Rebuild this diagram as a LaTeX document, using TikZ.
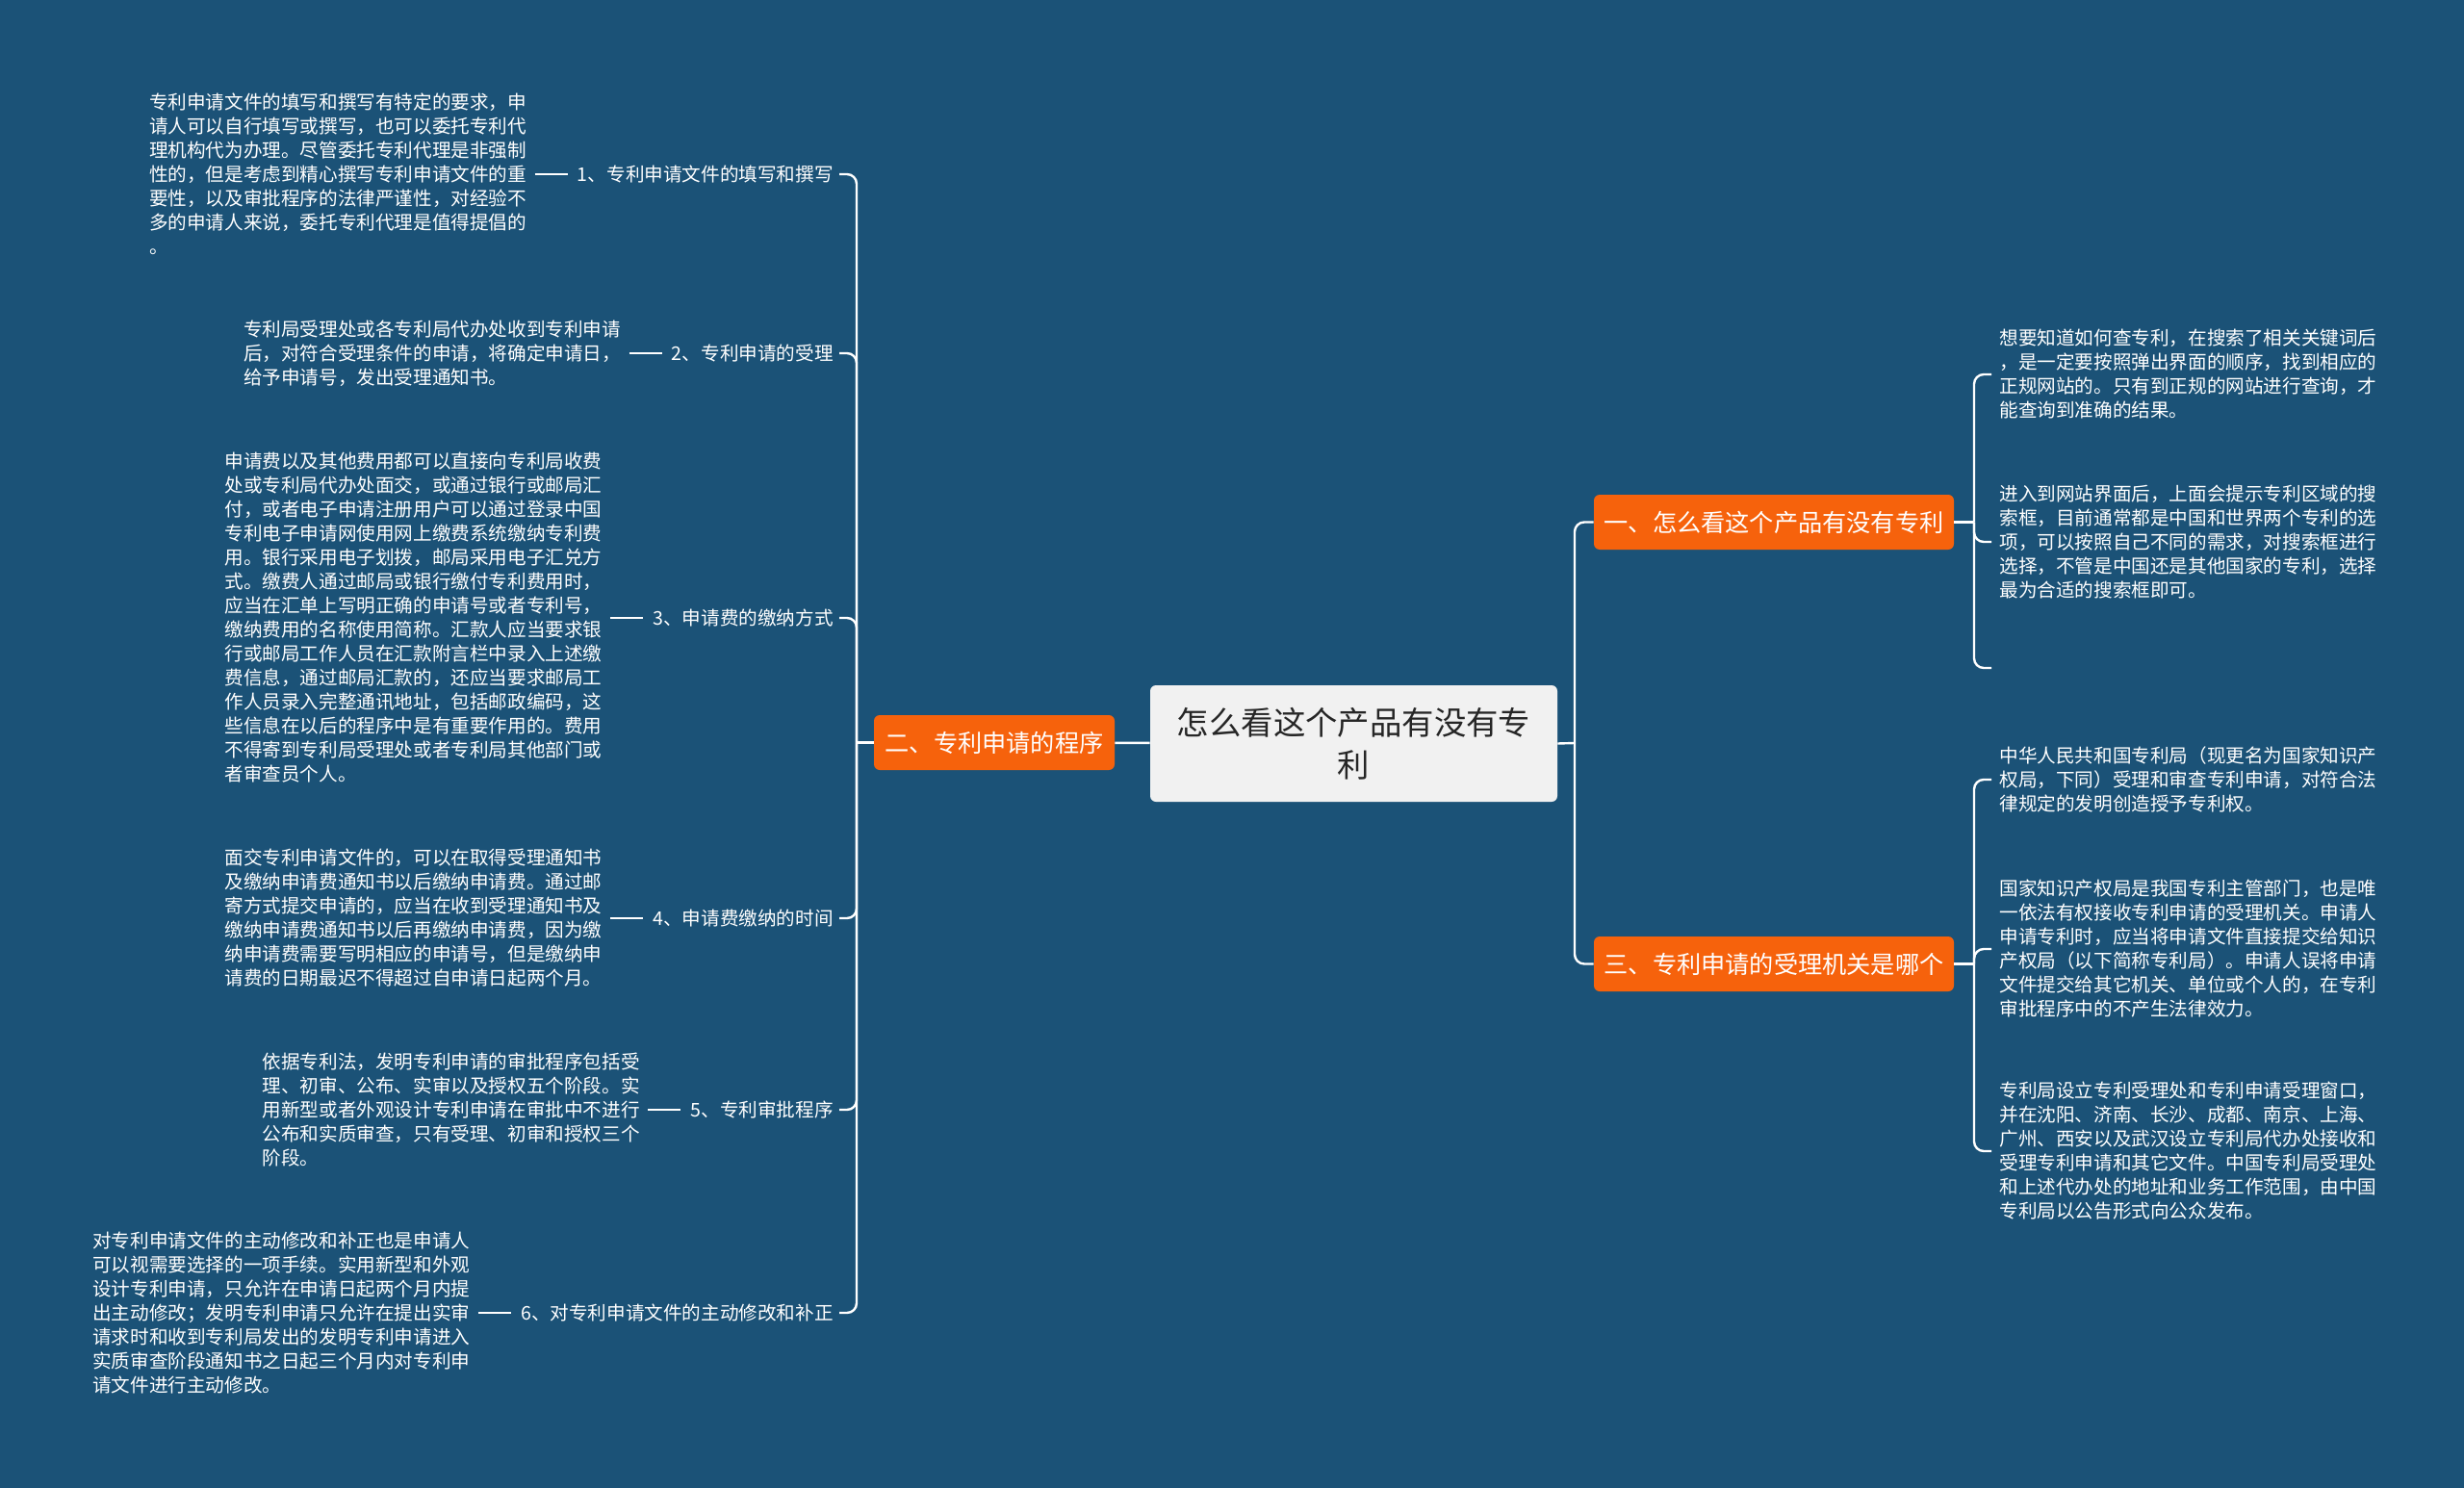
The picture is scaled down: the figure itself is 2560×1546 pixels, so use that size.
\documentclass[tikz,border=0pt]{standalone}
\usepackage{fontspec}
\setmainfont{Noto Sans CJK SC}
\usetikzlibrary{positioning}
\definecolor{bgblue}{HTML}{1B5277}
\definecolor{branchorange}{HTML}{F6620C}
\definecolor{rootgray}{HTML}{F1F1F1}
\tikzset{
	wire/.style={draw=white, line width=1.2pt, rounded corners=5pt},
	tick/.style={draw=white, line width=1.2pt, shorten <=4pt, shorten >=5pt},
	rootbox/.style={fill=rootgray, rounded corners=3pt, minimum width=211.5pt, minimum height=60.5pt, align=center, text=black!85, font=\fontsize{16.7pt}{22pt}\selectfont},
	branchbox/.style={fill=branchorange, rounded corners=3pt, minimum height=28.5pt, text=white, font=\fontsize{12.6pt}{15pt}\selectfont},
	itemlabel/.style={inner sep=0pt, text=white, anchor=east, font=\fontsize{9.8pt}{12.5pt}\selectfont},
	notetext/.style={inner sep=0pt, text=white, align=left, font=\fontsize{9.8pt}{12.5pt}\selectfont},
}

\begin{document}
\begin{tikzpicture}[x=0.5pt, y=-0.5pt]
	%%%%% START %%%%%
	
	\fill[bgblue] (0,0) rectangle (2560,1546);
	
	\node[rootbox] (root) at (1406.5,772.5) {怎么看这个产品有没有专\\利};
	\node[branchbox, minimum width=125pt] (prog) at (1033,771.5) {二、专利申请的程序};
	\node[branchbox, minimum width=187pt] (check) at (1843,542.5) {一、怎么看这个产品有没有专利};
	\node[branchbox, minimum width=187pt] (office) at (1843,1001.5) {三、专利申请的受理机关是哪个};
	
	% left side
	\node[itemlabel] (writing) at (866,181) {1、专利申请文件的填写和撰写};
	\node[itemlabel] (accept) at (866,367) {2、专利申请的受理};
	\node[itemlabel] (feeway) at (866,642) {3、申请费的缴纳方式};
	\node[itemlabel] (feetime) at (866,954) {4、申请费缴纳的时间};
	\node[itemlabel] (exam) at (866,1153) {5、专利审批程序};
	\node[itemlabel] (amend) at (866,1364) {6、对专利申请文件的主动修改和补正};
	
	\node[notetext, left=26pt of writing] (writingnote) {专利申请文件的填写和撰写有特定的要求，申\\请人可以自行填写或撰写，也可以委托专利代\\理机构代为办理。尽管委托专利代理是非强制\\性的，但是考虑到精心撰写专利申请文件的重\\要性，以及审批程序的法律严谨性，对经验不\\多的申请人来说，委托专利代理是值得提倡的\\。};
	\node[notetext, left=26pt of accept] (acceptnote) {专利局受理处或各专利局代办处收到专利申请\\后，对符合受理条件的申请，将确定申请日，\\给予申请号，发出受理通知书。};
	\node[notetext, left=26pt of feeway] (feewaynote) {申请费以及其他费用都可以直接向专利局收费\\处或专利局代办处面交，或通过银行或邮局汇\\付，或者电子申请注册用户可以通过登录中国\\专利电子申请网使用网上缴费系统缴纳专利费\\用。银行采用电子划拨，邮局采用电子汇兑方\\式。缴费人通过邮局或银行缴付专利费用时，\\应当在汇单上写明正确的申请号或者专利号，\\缴纳费用的名称使用简称。汇款人应当要求银\\行或邮局工作人员在汇款附言栏中录入上述缴\\费信息，通过邮局汇款的，还应当要求邮局工\\作人员录入完整通讯地址，包括邮政编码，这\\些信息在以后的程序中是有重要作用的。费用\\不得寄到专利局受理处或者专利局其他部门或\\者审查员个人。};
	\node[notetext, left=26pt of feetime] (feetimenote) {面交专利申请文件的，可以在取得受理通知书\\及缴纳申请费通知书以后缴纳申请费。通过邮\\寄方式提交申请的，应当在收到受理通知书及\\缴纳申请费通知书以后再缴纳申请费，因为缴\\纳申请费需要写明相应的申请号，但是缴纳申\\请费的日期最迟不得超过自申请日起两个月。};
	\node[notetext, left=26pt of exam] (examnote) {依据专利法，发明专利申请的审批程序包括受\\理、初审、公布、实审以及授权五个阶段。实\\用新型或者外观设计专利申请在审批中不进行\\公布和实质审查，只有受理、初审和授权三个\\阶段。};
	\node[notetext, left=26pt of amend] (amendnote) {对专利申请文件的主动修改和补正也是申请人\\可以视需要选择的一项手续。实用新型和外观\\设计专利申请，只允许在申请日起两个月内提\\出主动修改；发明专利申请只允许在提出实审\\请求时和收到专利局发出的发明专利申请进入\\实质审查阶段通知书之日起三个月内对专利申\\请文件进行主动修改。};
	
	% right side
	\node[notetext, anchor=west] (searcha) at (2077,389) {想要知道如何查专利，在搜索了相关关键词后\\，是一定要按照弹出界面的顺序，找到相应的\\正规网站的。只有到正规的网站进行查询，才\\能查询到准确的结果。};
	\node[notetext, anchor=west] (searchb) at (2077,563) {进入到网站界面后，上面会提示专利区域的搜\\索框，目前通常都是中国和世界两个专利的选\\项，可以按照自己不同的需求，对搜索框进行\\选择，不管是中国还是其他国家的专利，选择\\最为合适的搜索框即可。};
	\coordinate (searchc) at (2069,694);
	
	\node[notetext, anchor=west] (officea) at (2077,810) {中华人民共和国专利局（现更名为国家知识产\\权局，下同）受理和审查专利申请，对符合法\\律规定的发明创造授予专利权。};
	\node[notetext, anchor=west] (officeb) at (2077,986) {国家知识产权局是我国专利主管部门，也是唯\\一依法有权接收专利申请的受理机关。申请人\\申请专利时，应当将申请文件直接提交给知识\\产权局（以下简称专利局）。申请人误将申请\\文件提交给其它机关、单位或个人的，在专利\\审批程序中的不产生法律效力。};
	\node[notetext, anchor=west] (officec) at (2077,1196) {专利局设立专利受理处和专利申请受理窗口，\\并在沈阳、济南、长沙、成都、南京、上海、\\广州、西安以及武汉设立专利局代办处接收和\\受理专利申请和其它文件。中国专利局受理处\\和上述代办处的地址和业务工作范围，由中国\\专利局以公告形式向公众发布。};
	
	% connectors
	\coordinate (lbus) at (890,771.5);
	\coordinate (rbus) at (1636,772);
	\coordinate (cbus) at (2051,542.5);
	\coordinate (obus) at (2051,1001.5);
	
	\draw[wire] (root) -- (prog);
	\draw[wire] (prog.west) -- (lbus);
	\foreach \n in {writing,accept,feeway,feetime,exam,amend}{
		\draw[wire, shorten >=3pt] (lbus) |- (\n.east);
		\draw[tick] (\n note) -- (\n);
	}
	
	\draw[wire] (root.east) -- (rbus);
	\draw[wire] (rbus) |- (check.west);
	\draw[wire] (rbus) |- (office.west);
	
	\draw[wire] (check.east) -- (cbus);
	\draw[wire, shorten >=4pt] (cbus) |- (searcha.west);
	\draw[wire, shorten >=4pt] (cbus) |- (searchb.west);
	\draw[wire] (cbus) |- (searchc);
	
	\draw[wire] (office.east) -- (obus);
	\foreach \n in {officea,officeb,officec}
		\draw[wire, shorten >=4pt] (obus) |- (\n.west);
	
	%%%%% END %%%%%
\end{tikzpicture}
\end{document}
